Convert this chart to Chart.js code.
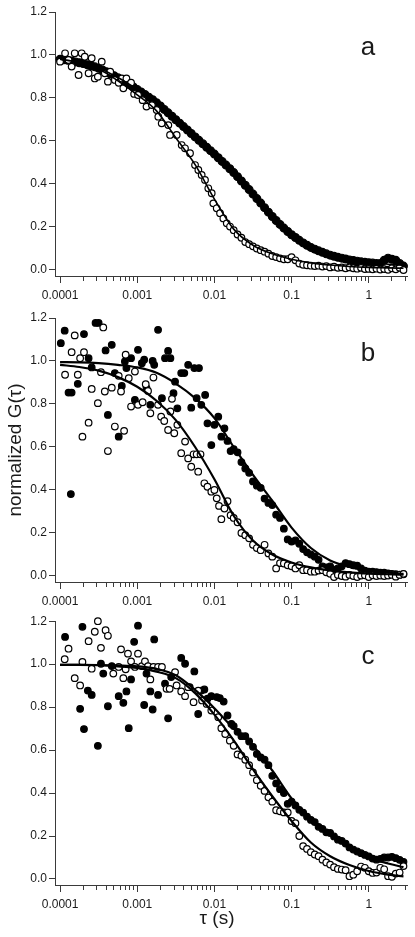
<!DOCTYPE html>
<html>
<head>
    <meta charset="utf-8">
    <title>Normalized G(τ)</title>
    <script src="https://cdn.jsdelivr.net/npm/chart.js"></script>
    <style>
        body { margin: 0; background: #fff; }
        #wrap { position: relative; width: 415px; height: 937px; }
        canvas { position: absolute; left: 0; }
    </style>
</head>
<body>
<div id="wrap">
    <canvas id="panelA" width="415" height="306" style="top:0px"></canvas>
    <canvas id="panelB" width="415" height="306" style="top:306px"></canvas>
    <canvas id="panelC" width="415" height="325" style="top:612px"></canvas>
</div>

<script>
    // axis setup
    const X_MIN = 8.6e-5, X_MAX = 3.13;
    const Y_MIN = -0.028, Y_MAX = 1.2;
    const xMajorTicks = [0.0001, 0.001, 0.01, 0.1, 1];
    const xTickLabels = ['0.0001', '0.001', '0.01', '0.1', '1'];
    const xMinorSteps = [2, 3, 4, 5, 6, 7, 8, 9];
    const yTicks = [0, 0.2, 0.4, 0.6, 0.8, 1.0, 1.2];
    const yTickLabels = ['0.0', '0.2', '0.4', '0.6', '0.8', '1.0', '1.2'];
    const panelLetters = ['a', 'b', 'c'];
    const yTitle = 'normalized G(τ)';
    const xTitle = 'τ (s)';

    // lag times are stored as log10(tau)
    const gridLogT = [
        -4.00, -3.95, -3.90, -3.85, -3.80, -3.75, -3.70, -3.65, -3.60, -3.55, -3.50, -3.45, -3.40, -3.35, -3.30, -3.25, -3.20, -3.15, -3.10, -3.05,
        -3.00, -2.95, -2.90, -2.85, -2.80, -2.75, -2.70, -2.65, -2.60, -2.55, -2.50, -2.45, -2.40, -2.35, -2.30, -2.25, -2.20, -2.15, -2.10, -2.05,
        -2.00, -1.95, -1.90, -1.85, -1.80, -1.75, -1.70, -1.65, -1.60, -1.55, -1.50, -1.45, -1.40, -1.35, -1.30, -1.25, -1.20, -1.15, -1.10, -1.05,
        -1.00, -0.95, -0.90, -0.85, -0.80, -0.75, -0.70, -0.65, -0.60, -0.55, -0.50, -0.45, -0.40, -0.35, -0.30, -0.25, -0.20, -0.15, -0.10, -0.05,
        0.00, 0.05, 0.10, 0.15, 0.20, 0.25, 0.30, 0.35, 0.40, 0.45
    ];
    const tailLogT = [
        -1.75, -1.70, -1.65, -1.60, -1.55, -1.50, -1.45, -1.40, -1.35, -1.30,
        -1.25, -1.20, -1.15, -1.10, -1.05, -1.00, -0.95, -0.90, -0.85, -0.80,
        -0.75, -0.70, -0.65, -0.60, -0.55, -0.50, -0.45, -0.40, -0.35, -0.30,
        -0.25, -0.20, -0.15, -0.10, -0.05, 0.00, 0.05, 0.10, 0.15, 0.20,
        0.25, 0.30, 0.35, 0.40, 0.45
    ];
    const fitLogT = [-4, -3.75, -3.5, -3.25, -3, -2.75, -2.5, -2.25, -2, -1.75, -1.5, -1.25, -1, -0.75, -0.5, -0.25, 0, 0.25, 0.45];

    // panel a
    const aFilledG = [
        0.98, 0.978, 0.975, 0.972, 0.968, 0.964, 0.96, 0.955, 0.95, 0.945, 0.938, 0.93, 0.922, 0.913, 0.904, 0.894, 0.884, 0.873, 0.862, 0.851,
        0.84, 0.828, 0.816, 0.804, 0.792, 0.778, 0.763, 0.747, 0.731, 0.715, 0.699, 0.683, 0.667, 0.651, 0.635, 0.619, 0.603, 0.587, 0.571, 0.555,
        0.539, 0.522, 0.505, 0.488, 0.471, 0.453, 0.434, 0.414, 0.394, 0.374, 0.353, 0.332, 0.311, 0.29, 0.269, 0.249, 0.23, 0.212, 0.195, 0.179,
        0.164, 0.151, 0.138, 0.126, 0.115, 0.105, 0.097, 0.089, 0.082, 0.075, 0.069, 0.064, 0.059, 0.055, 0.051, 0.047, 0.044, 0.041, 0.038, 0.036,
        0.034, 0.032, 0.03, 0.03, 0.045, 0.055, 0.05, 0.045, 0.03, 0.018
    ];
    const aOpenEarlyLogT = [
        -4.00, -3.935, -3.89, -3.85, -3.81, -3.76, -3.72, -3.68, -3.63, -3.59, -3.55, -3.51, -3.46, -3.42, -3.38, -3.35,
        -3.29, -3.24, -3.20, -3.18, -3.14, -3.08, -3.04, -2.99, -2.93, -2.88, -2.81, -2.748, -2.727, -2.683, -2.597, -2.575,
        -2.489, -2.424, -2.381, -2.316, -2.251, -2.208, -2.165, -2.122, -2.079, -2.035, -2.014, -1.97, -1.927, -1.884, -1.84, -1.798
    ];
    const aOpenEarlyG = [
        0.969, 1.008, 0.977, 0.946, 1.008, 0.907, 1.008, 0.992, 0.915, 0.985, 0.891, 0.899, 0.969, 0.915, 0.876, 0.922,
        0.884, 0.871, 0.891, 0.845, 0.891, 0.871, 0.819, 0.814, 0.79, 0.76, 0.767, 0.744, 0.713, 0.682, 0.674, 0.628,
        0.628, 0.581, 0.566, 0.543, 0.488, 0.465, 0.442, 0.419, 0.38, 0.357, 0.31, 0.287, 0.264, 0.24, 0.217, 0.202
    ];
    const aOpenTailG = [
        0.185, 0.165, 0.15, 0.13, 0.12, 0.11, 0.10, 0.092, 0.085, 0.076,
        0.065, 0.06, 0.054, 0.05, 0.05, 0.06, 0.045, 0.03, 0.024, 0.022,
        0.02, 0.018, 0.02, 0.016, 0.018, 0.012, 0.015, 0.01, 0.012, 0.008,
        0.012, 0.008, 0.006, 0.01, 0.004, 0.005, 0.003, 0.006, 0.002, 0.004,
        0.001, 0.008, 0.003, 0.01, 0.0
    ];
    const aFitSlow = [0.98, 0.965, 0.94, 0.895, 0.84, 0.78, 0.70, 0.62, 0.54, 0.455, 0.355, 0.25, 0.165, 0.105, 0.068, 0.046, 0.034, 0.027, 0.022];
    const aFitFast = [0.98, 0.965, 0.935, 0.88, 0.815, 0.74, 0.615, 0.49, 0.33, 0.19, 0.115, 0.075, 0.05, 0.033, 0.023, 0.016, 0.012, 0.01, 0.008];

    // panel b
    const bFilledEarlyLogT = [
        -3.99, -3.94, -3.89, -3.86, -3.85, -3.77, -3.69, -3.63, -3.59, -3.54, -3.50, -3.41, -3.38, -3.33, -3.29, -3.24, -3.20, -3.16,
        -3.14, -3.08, -3.03, -2.99, -2.94, -2.91, -2.88, -2.83, -2.80, -2.78, -2.73, -2.68, -2.64, -2.60, -2.57, -2.53, -2.51, -2.48,
        -2.43, -2.39, -2.34, -2.30, -2.26, -2.23, -2.20, -2.17, -2.12, -2.09, -2.04, -2.00, -1.95, -1.91, -1.87, -1.83, -1.79
    ];
    const bFilledEarlyG = [
        1.083, 1.141, 0.853, 0.381, 0.853, 0.894, 1.125, 1.013, 0.97, 1.177, 1.177, 1.049, 0.749, 1.075, 0.944, 0.648, 0.884, 0.998,
        0.967, 1.013, 0.819, 1.052, 0.99, 1.006, 0.874, 0.796, 1.0, 0.982, 1.145, 0.827, 1.013, 1.047, 1.013, 0.85, 0.904, 0.78,
        0.944, 0.944, 0.982, 0.783, 0.967, 0.827, 0.967, 0.796, 0.842, 0.71, 0.609, 0.703, 0.741, 0.648, 0.687, 0.628, 0.581
    ];
    const bFilledTailG = [
        0.59, 0.575, 0.53, 0.50, 0.48, 0.44, 0.42, 0.41, 0.36, 0.34,
        0.33, 0.285, 0.27, 0.22, 0.17, 0.16, 0.165, 0.15, 0.125, 0.11,
        0.10, 0.09, 0.075, 0.045, 0.04, 0.045, 0.03, 0.035, 0.045, 0.06,
        0.055, 0.05, 0.048, 0.035, 0.025, 0.02, 0.02, 0.018, 0.015, 0.015,
        0.012, 0.01, 0.008, 0.006, 0.008
    ];
    const bOpenEarlyLogT = [
        -3.935, -3.85, -3.81, -3.77, -3.74, -3.71, -3.69, -3.63, -3.59, -3.51, -3.47, -3.44, -3.42, -3.38, -3.33, -3.29, -3.24, -3.21, -3.17,
        -3.15, -3.11, -3.08, -3.03, -2.99, -2.93, -2.89, -2.86, -2.83, -2.79, -2.73, -2.69, -2.65, -2.60, -2.57, -2.55, -2.52, -2.48,
        -2.43, -2.38, -2.34, -2.30, -2.27, -2.23, -2.21, -2.18, -2.13, -2.09, -2.04, -2.00, -1.97, -1.94, -1.91, -1.87, -1.83, -1.79
    ];
    const bOpenEarlyG = [
        0.936, 1.041, 1.119, 0.936, 1.013, 0.648, 1.041, 0.713, 0.87, 0.804, 0.948, 1.156, 0.858, 0.581, 0.876, 0.695, 0.931, 0.858, 0.675,
        1.029, 0.92, 0.788, 0.951, 0.796, 0.808, 0.892, 0.861, 0.757, 0.923, 0.796, 0.741, 0.721, 0.679, 0.765, 0.824, 0.664, 0.703,
        0.571, 0.625, 0.547, 0.508, 0.566, 0.566, 0.485, 0.566, 0.431, 0.415, 0.392, 0.40, 0.361, 0.326, 0.264, 0.314, 0.348, 0.283
    ];
    const bOpenTailG = [
        0.27, 0.25, 0.20, 0.19, 0.175, 0.145, 0.13, 0.12, 0.145, 0.105,
        0.09, 0.035, 0.06, 0.058, 0.05, 0.045, 0.035, 0.05, 0.027, 0.027,
        0.02, 0.02, 0.025, 0.027, 0.017, 0.01, -0.005, 0.005, 0.0, -0.003,
        0.005, 0.0, -0.005, 0.002, 0.003, -0.005, 0.003, 0.0, 0.002, 0.0,
        0.002, 0.005, -0.003, 0.005, 0.01
    ];
    const bFitSlow = [0.995, 0.994, 0.99, 0.982, 0.97, 0.945, 0.895, 0.827, 0.734, 0.60, 0.47, 0.35, 0.225, 0.13, 0.072, 0.042, 0.025, 0.015, 0.01];
    const bFitFast = [0.982, 0.972, 0.955, 0.925, 0.88, 0.815, 0.725, 0.60, 0.45, 0.28, 0.165, 0.10, 0.063, 0.04, 0.026, 0.017, 0.011, 0.008, 0.006];

    // panel c
    const cFilledEarlyLogT = [
        -3.935, -3.74, -3.71, -3.69, -3.64, -3.59, -3.51, -3.47, -3.44, -3.38, -3.33, -3.24, -3.18, -3.14,
        -3.11, -3.08, -3.04, -2.99, -2.91, -2.88, -2.83, -2.80, -2.78, -2.73, -2.64, -2.60, -2.56, -2.43,
        -2.38, -2.32, -2.26, -2.21, -2.17, -2.13, -2.09, -2.04, -1.97, -1.93, -1.88, -1.83, -1.78
    ];
    const cFilledEarlyG = [
        1.127, 0.792, 1.174, 0.698, 0.877, 0.857, 0.62, 1.002, 0.956, 0.804, 0.991, 0.851, 0.82, 0.873,
        0.702, 0.929, 1.104, 1.179, 0.81, 0.956, 0.873, 0.789, 1.115, 0.857, 0.909, 0.748, 0.94, 1.029,
        1.002, 0.893, 0.966, 0.768, 0.877, 0.882, 0.839, 0.851, 0.847, 0.842, 0.826, 0.761, 0.722
    ];
    const cFilledTailG = [
        0.712, 0.685, 0.665, 0.665, 0.64, 0.615, 0.582, 0.566, 0.555, 0.53,
        0.48, 0.445, 0.418, 0.40, 0.35, 0.36, 0.342, 0.322, 0.309, 0.29,
        0.275, 0.265, 0.243, 0.233, 0.217, 0.214, 0.198, 0.183, 0.177, 0.165,
        0.147, 0.137, 0.128, 0.12, 0.112, 0.105, 0.095, 0.09, 0.094, 0.10,
        0.10, 0.103, 0.097, 0.089, 0.08
    ];
    const cOpenEarlyLogT = [
        -3.94, -3.89, -3.81, -3.74, -3.71, -3.63, -3.59, -3.55, -3.51, -3.47, -3.41, -3.38, -3.31, -3.24, -3.21,
        -3.18, -3.15, -3.12, -3.08, -3.03, -2.99, -2.94, -2.90, -2.86, -2.83, -2.79, -2.73, -2.68, -2.62, -2.58,
        -2.51, -2.49, -2.43, -2.38, -2.34, -2.27, -2.21, -2.16, -2.10, -2.04, -1.95, -1.91, -1.86, -1.80
    ];
    const cOpenEarlyG = [
        1.023, 1.072, 0.935, 0.901, 1.01, 1.107, 0.979, 1.151, 1.20, 1.076, 1.158, 1.132, 0.956, 0.987, 1.069,
        0.935, 0.976, 1.049, 1.013, 0.987, 1.049, 0.991, 1.013, 0.991, 0.929, 0.987, 0.987, 0.987, 0.885, 0.885,
        0.963, 0.901, 0.873, 0.851, 0.893, 0.823, 0.877, 0.831, 0.815, 0.784, 0.753, 0.702, 0.675, 0.644
    ];
    const cOpenTailG = [
        0.62, 0.58, 0.574, 0.555, 0.53, 0.496, 0.46, 0.434, 0.41, 0.38,
        0.36, 0.32, 0.315, 0.31, 0.31, 0.27, 0.26, 0.20, 0.153, 0.14,
        0.125, 0.114, 0.106, 0.09, 0.077, 0.067, 0.055, 0.047, 0.044, 0.041,
        0.013, 0.02, 0.036, 0.058, 0.052, 0.036, 0.028, 0.03, 0.052, 0.045,
        0.013, 0.01, 0.025, 0.03, 0.06
    ];
    const cFitSlow = [0.997, 0.997, 0.996, 0.994, 0.99, 0.978, 0.948, 0.88, 0.795, 0.70, 0.62, 0.505, 0.375, 0.275, 0.205, 0.145, 0.10, 0.072, 0.055];
    const cFitFast = [0.997, 0.997, 0.995, 0.99, 0.982, 0.965, 0.935, 0.865, 0.765, 0.645, 0.51, 0.385, 0.27, 0.17, 0.106, 0.065, 0.037, 0.02, 0.012];

    const AXIS = '#3a3a3a';
    const TEXT = '#1a1a1a';
    const FONT = "'Liberation Sans', Arial, sans-serif";

    function pts(logT, g) {
        return logT.map((e, i) => ({ x: Math.pow(10, e), y: g[i] }));
    }

    const xTickValues = [];
    xMajorTicks.forEach(d => {
        [1].concat(xMinorSteps).forEach(m => {
            if (m * d <= X_MAX) xTickValues.push(m * d);
        });
    });

    function majorIndex(v) {
        return xMajorTicks.findIndex(d => Math.abs(v / d - 1) < 1e-6);
    }

    function scatterSet(data, filled, radius) {
        return {
            data: data,
            pointRadius: radius || 3.3,
            pointBorderWidth: 1.2,
            pointBorderColor: '#000',
            pointBackgroundColor: filled ? '#000' : '#fff',
            showLine: false,
            clip: false,
            order: filled ? 2 : 1
        };
    }

    function fitSet(data, width) {
        return {
            data: data,
            showLine: true,
            borderColor: '#000',
            borderWidth: width,
            pointRadius: 0,
            cubicInterpolationMode: 'monotone',
            fill: false,
            order: 0
        };
    }

    // panel letter and bottom axis title, placed like the original figure
    const panelText = {
        id: 'panelText',
        afterDraw(chart, args, opts) {
            const { ctx, chartArea } = chart;
            ctx.save();
            ctx.fillStyle = TEXT;
            ctx.textAlign = 'center';
            ctx.textBaseline = 'alphabetic';
            ctx.font = '26px ' + FONT;
            ctx.fillText(opts.letter, 368, chartArea.top + 43);
            if (opts.xTitle) {
                ctx.font = '19px ' + FONT;
                ctx.fillText(opts.xTitle, 217, chartArea.bottom + 39);
            }
            ctx.restore();
        }
    };

    function makeChart(id, datasets, opt) {
        const ctx = document.getElementById(id).getContext('2d');
        return new Chart(ctx, {
            type: 'scatter',
            data: { datasets: datasets },
            plugins: [panelText],
            options: {
                responsive: false,
                animation: false,
                events: [],
                layout: { padding: { top: opt.padTop, right: 8, left: 0, bottom: 0 } },
                plugins: {
                    legend: { display: false },
                    tooltip: { enabled: false },
                    panelText: { letter: opt.letter, xTitle: opt.xTitle }
                },
                scales: {
                    x: {
                        type: 'logarithmic',
                        min: X_MIN,
                        max: X_MAX,
                        border: { color: AXIS, width: 1 },
                        grid: {
                            drawOnChartArea: false,
                            tickLength: 7,
                            tickColor: AXIS,
                            tickBorderDash: c => (c.tick && majorIndex(c.tick.value) < 0) ? [4, 20] : []
                        },
                        afterBuildTicks: s => { s.ticks = xTickValues.map(v => ({ value: v })); },
                        afterFit: s => { s.height = opt.xHeight; },
                        ticks: {
                            autoSkip: false,
                            maxRotation: 0,
                            padding: 5,
                            color: TEXT,
                            font: { family: FONT, size: 12 },
                            callback: v => {
                                const i = majorIndex(v);
                                return i >= 0 ? xTickLabels[i] : '';
                            }
                        }
                    },
                    y: {
                        min: Y_MIN,
                        max: Y_MAX,
                        border: { color: AXIS, width: 1 },
                        grid: { drawOnChartArea: false, tickLength: 6, tickColor: AXIS },
                        afterBuildTicks: s => { s.ticks = yTicks.map(v => ({ value: v })); },
                        afterFit: s => { s.width = 55; },
                        ticks: {
                            padding: 2,
                            color: TEXT,
                            font: { family: FONT, size: 12 },
                            callback: v => {
                                const i = yTicks.findIndex(t => Math.abs(t - v) < 1e-9);
                                return i >= 0 ? yTickLabels[i] : '';
                            }
                        },
                        title: {
                            display: !!opt.yTitle,
                            text: opt.yTitle || '',
                            color: TEXT,
                            font: { family: FONT, size: 19 },
                            padding: { top: 4, bottom: 0 }
                        }
                    }
                }
            }
        });
    }

    makeChart('panelA', [
        fitSet(pts(fitLogT, aFitFast), 1.6),
        fitSet(pts(fitLogT, aFitSlow), 1.6),
        scatterSet(pts(aOpenEarlyLogT, aOpenEarlyG).concat(pts(tailLogT, aOpenTailG)), false),
        scatterSet(pts(gridLogT, aFilledG), true, 3.9)
    ], { padTop: 12, xHeight: 30, letter: panelLetters[0] });

    makeChart('panelB', [
        fitSet(pts(fitLogT, bFitFast), 2.2),
        fitSet(pts(fitLogT, bFitSlow), 2.2),
        scatterSet(pts(bOpenEarlyLogT, bOpenEarlyG).concat(pts(tailLogT, bOpenTailG)), false),
        scatterSet(pts(bFilledEarlyLogT, bFilledEarlyG).concat(pts(tailLogT, bFilledTailG)), true)
    ], { padTop: 12, xHeight: 30, letter: panelLetters[1], yTitle: yTitle });

    makeChart('panelC', [
        fitSet(pts(fitLogT, cFitFast), 2.2),
        fitSet(pts(fitLogT, cFitSlow), 2.2),
        scatterSet(pts(cOpenEarlyLogT, cOpenEarlyG).concat(pts(tailLogT, cOpenTailG)), false),
        scatterSet(pts(cFilledEarlyLogT, cFilledEarlyG).concat(pts(tailLogT, cFilledTailG)), true)
    ], { padTop: 9, xHeight: 52, letter: panelLetters[2], xTitle: xTitle });
</script>
</body>
</html>
